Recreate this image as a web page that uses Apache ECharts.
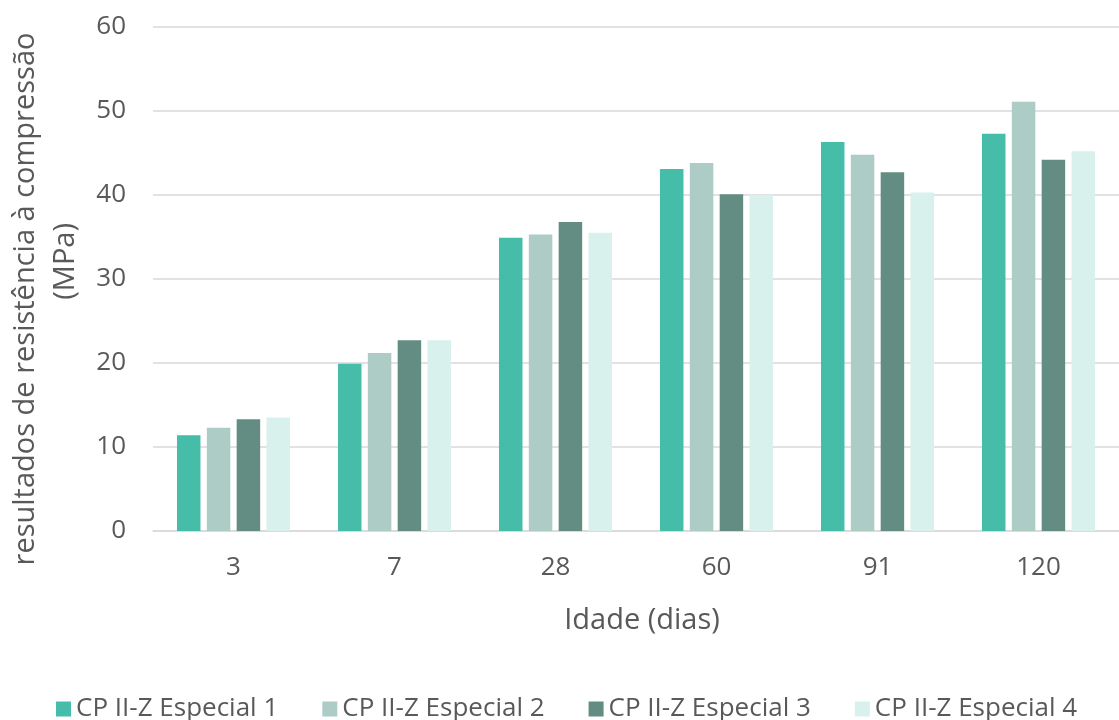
<!DOCTYPE html>
<html><head><meta charset="utf-8">
<script src="https://cdn.jsdelivr.net/npm/echarts@6/dist/echarts.min.js"></script>
<style>html,body{margin:0;padding:0;background:#fff}#c{width:1119px;height:720px}</style>
</head><body><div id="c"></div>
<script>
const categories = ['3', '7', '28', '60', '91', '120'];
const seriesNames = ['CP II-Z Especial 1', 'CP II-Z Especial 2', 'CP II-Z Especial 3', 'CP II-Z Especial 4'];
const esp1 = [11.4, 19.9, 34.9, 43.1, 46.3, 47.3];
const esp2 = [12.3, 21.2, 35.3, 43.8, 44.8, 51.1];
const esp3 = [13.3, 22.7, 36.8, 40.1, 42.7, 44.2];
const esp4 = [13.5, 22.7, 35.5, 40.0, 40.3, 45.2];
const colors = ['#45BDA9', '#ADCCC6', '#638C82', '#D8F1EC'];
const allData = [esp1, esp2, esp3, esp4];
const yTitle1 = 'resultados de resistência à compressão';
const yTitle2 = '(MPa)';

const font = 'Open Sans';
const pad = '\u00a0'.repeat(10);
const chart = echarts.init(document.getElementById('c'));
chart.setOption({
  animation: false,
  textStyle: { fontFamily: font },
  grid: { left: 153, right: 0, top: 27, bottom: 189, outerBoundsMode: 'none', containLabel: false },
  legend: {
    top: 691, left: 51,
    itemWidth: 15, itemHeight: 15, itemGap: 44,
    icon: 'rect',
    textStyle: { fontSize: 26, color: '#595959', fontFamily: font },
    data: seriesNames
  },
  xAxis: {
    type: 'category', data: categories,
    name: 'Idade (dias)', nameLocation: 'middle', nameGap: 75,
    nameTextStyle: { fontSize: 29, color: '#595959', padding: [0, 0, 0, 12] },
    axisLine: { lineStyle: { color: '#D9D9D9', width: 1.5 } },
    axisTick: { show: false },
    axisLabel: { fontSize: 26, color: '#595959', margin: 24 }
  },
  yAxis: {
    type: 'value', min: 0, max: 60, interval: 10,
    name: yTitle1 + '\n' + pad + yTitle2, nameLocation: 'middle', nameGap: 66,
    nameTextStyle: { fontSize: 29, color: '#595959', lineHeight: 40, padding: [0, 40, 0, 0] },
    axisLine: { show: false }, axisTick: { show: false },
    axisLabel: { fontSize: 26, color: '#595959', margin: 27 },
    splitLine: { lineStyle: { color: '#D9D9D9', width: 1.5 } }
  },
  series: seriesNames.map((n, i) => ({
    name: n, type: 'bar', data: allData[i],
    barWidth: 23.5, barGap: '27%',
    itemStyle: { color: colors[i] }
  }))
});
</script></body></html>
